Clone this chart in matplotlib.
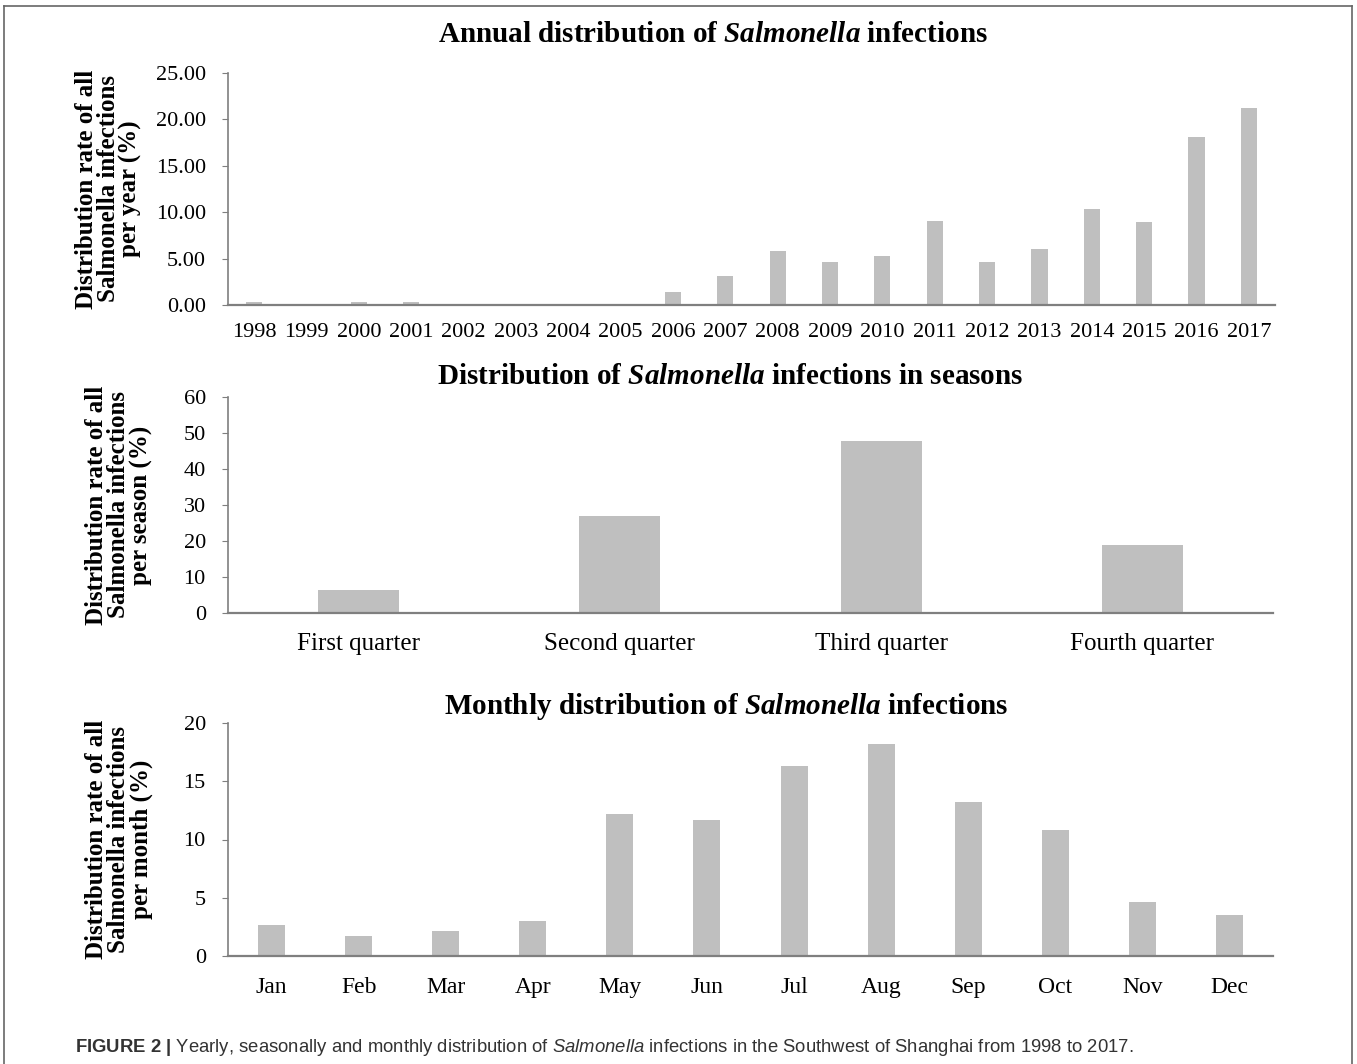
import matplotlib
matplotlib.use("Agg")
import matplotlib.pyplot as plt
from matplotlib.lines import Line2D

# fonts: Times-like serif for the charts, sans for the caption
plt.rcParams["font.family"] = "Liberation Serif"
plt.rcParams["mathtext.fontset"] = "custom"
plt.rcParams["mathtext.bfit"] = "Liberation Serif:bold:italic"
plt.rcParams["mathtext.it"] = "Liberation Sans:italic"
plt.rcParams["mathtext.bf"] = "Liberation Sans:bold"
plt.rcParams["mathtext.rm"] = "Liberation Sans"

# data
years = [str(y) for y in range(1998, 2018)]
year_rate = [0.29, 0.10, 0.29, 0.29, 0.10, 0.0, 0.10, 0.0, 1.38, 3.17,
             5.85, 4.58, 5.30, 9.05, 4.58, 6.05, 10.30, 8.90, 18.10, 21.27]

quarters = ["First quarter", "Second quarter", "Third quarter", "Fourth quarter"]
quarter_rate = [6.5, 26.9, 47.7, 18.9]

months = ["Jan", "Feb", "Mar", "Apr", "May", "Jun",
          "Jul", "Aug", "Sep", "Oct", "Nov", "Dec"]
month_rate = [2.63, 1.75, 2.12, 3.03, 12.22, 11.67,
              16.28, 18.23, 13.25, 10.79, 4.61, 3.55]

W, H = 1357, 1064
fig = plt.figure(figsize=(W / 100, H / 100), dpi=100)

bar_col = "#bfbfbf"
axis_col = "#7f7f7f"


def px_axes(left, top, right, bottom):
    return fig.add_axes([left / W, 1 - bottom / H, (right - left) / W, (bottom - top) / H])


def style_axes(ax, ylabel, xsize, xpad):
    for s in ["top", "right"]:
        ax.spines[s].set_visible(False)
    ax.spines["left"].set_color(axis_col)
    ax.spines["bottom"].set_color(axis_col)
    ax.spines["left"].set_linewidth(1.2)
    ax.spines["bottom"].set_linewidth(1.6)
    ax.tick_params(axis="y", direction="out", length=4, color=axis_col, labelsize=16, pad=12)
    ax.tick_params(axis="x", length=0, labelsize=xsize, pad=xpad)
    ax.set_ylabel(ylabel, fontsize=18, fontweight="bold", linespacing=0.95)


panels = [
    (years, year_rate, (228, 73, 1275, 305), [0, 5, 10, 15, 20, 25], "%.2f",
     "Distribution rate of all\nSalmonella infections\nper year (%)", -0.082, 16, 13,
     r"Annual distribution of $\mathbfit{Salmonella}$ infections", 713, 35),
    (quarters, quarter_rate, (228, 397, 1273, 613), list(range(0, 61, 10)), "%d",
     "Distribution rate of all\nSalmonella infections\nper season (%)", -0.072, 18, 14.5,
     r"Distribution of $\mathbfit{Salmonella}$ infections in seasons", 730, 377),
    (months, month_rate, (228, 723, 1273, 956), [0, 5, 10, 15, 20], "%d",
     "Distribution rate of all\nSalmonella infections\nper month (%)", -0.072, 17, 15,
     r"Monthly distribution of $\mathbfit{Salmonella}$ infections", 726, 707),
]

for cats, vals, box, yt, fmt, ylab, labx, xsize, xpad, title, tx, ty in panels:
    ax = px_axes(*box)
    ax.bar(range(len(cats)), vals, width=0.31, color=bar_col)
    ax.set_xlim(-0.5, len(cats) - 0.5)
    ax.set_ylim(yt[0], yt[-1])
    ax.set_yticks(yt)
    ax.set_yticklabels([fmt % v for v in yt])
    ax.set_xticks(range(len(cats)))
    ax.set_xticklabels(cats)
    style_axes(ax, ylab, xsize, xpad)
    ax.yaxis.set_label_coords(labx, 0.5)
    fig.text(tx / W, 1 - ty / H, title, ha="center", va="center",
             fontsize=21, fontweight="bold")

# caption, scaled to the width it has in the reference
cap = fig.text(75 / W, 1 - 1047 / H,
               r"$\mathbf{FIGURE\ 2\ |}$ Yearly, seasonally and monthly distribution of "
               r"$\mathit{Salmonella}$ infections in the Southwest of Shanghai from 1998 to 2017.",
               ha="left", va="center", fontsize=13, family="Liberation Sans", color="#333333")
r = fig.canvas.get_renderer()
wid = cap.get_window_extent(r).width
cap.set_fontsize(13 * 1053 / wid)

# frame around the figure (open at the bottom)
fc = "#666666"
fig.add_artist(Line2D([4 / W, 4 / W], [0, 1 - 6 / H], transform=fig.transFigure, color=fc, lw=1.2))
fig.add_artist(Line2D([4 / W, 1352 / W], [1 - 6 / H, 1 - 6 / H], transform=fig.transFigure, color=fc, lw=1.2))
fig.add_artist(Line2D([1352 / W, 1352 / W], [0, 1 - 6 / H], transform=fig.transFigure, color=fc, lw=1.2))

fig.savefig("out.png", dpi=100)
